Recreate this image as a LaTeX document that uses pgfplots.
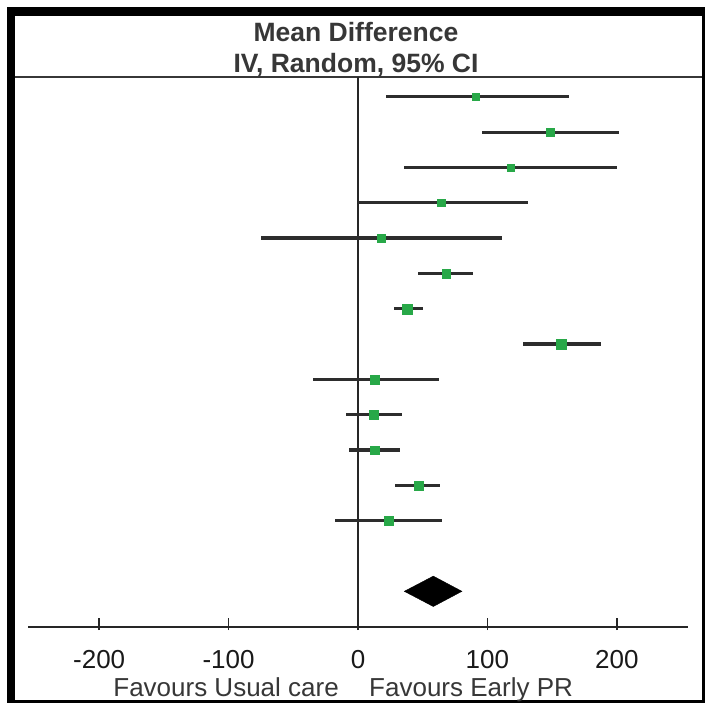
\documentclass[border=0pt]{standalone}
\usepackage{fontspec}
\setmainfont{Liberation Sans}
\usepackage{pgfplots}
\usepackage{pgfplotstable}
\pgfplotsset{compat=1.18}
\definecolor{mkgreen}{RGB}{40,168,72}
\definecolor{cigray}{RGB}{45,45,45}
\definecolor{txtgray}{RGB}{55,55,55}

\pgfplotstableread{
row est lo hi sz
-1 91.3 21.6 162.7 3.5
-2 148.5 95.5 201.8 3.7
-3 117.9 35.5 200.2 3.7
-4 64.2 0.0 131.0 3.7
-5 17.8 -74.9 110.9 3.7
-6 68.2 46.5 88.5 4.4
-7 38.4 28.0 49.9 5.0
-8 157.0 127.6 187.6 5.0
-9 13.1 -35.0 62.8 4.6
-10 12.1 -9.3 33.9 4.4
-11 12.9 -7.2 32.4 4.2
-12 46.6 28.6 63.3 4.4
-13 23.7 -17.8 64.6 4.4
}\studies

\begin{document}
\begin{tikzpicture}
\fill[white] (0pt,0pt) rectangle (705pt,-703pt);
\useasboundingbox (0pt,0pt) rectangle (705pt,-703pt);
% frame
\fill[black] (6.7pt,-7.5pt) rectangle (705pt,-703pt);
\fill[white] (14.7pt,-15.7pt) rectangle (701.5pt,-699.5pt);
% header rule
\draw[line width=2pt, txtgray] (14.7pt,-77pt) -- (701.5pt,-77pt);
\node[anchor=base, inner sep=0pt, text=txtgray, font=\fontsize{26.5}{26.5}\selectfont\bfseries] at (356pt,-42pt) {Mean Difference};
\node[anchor=base, inner sep=0pt, text=txtgray, font=\fontsize{26.5}{26.5}\selectfont\bfseries] at (356pt,-73pt) {IV, Random, 95\% CI};

\begin{axis}[
  at={(28pt,-627pt)}, anchor=south west,
  width=660pt, height=550pt, scale only axis,
  xmin=-255, xmax=255, ymin=-16.01, ymax=-0.44,
  axis x line=bottom, axis y line=none,
  x axis line style={-, line width=1.8pt, black!85},
  xtick={-200,-100,0,100,200},
  xticklabels={-200,-100,0,100,200},
  ytick=\empty,
  tick align=inside, major tick length=12pt,
  xtick style={line width=1.8pt, black!85, yshift=-3pt},
  xticklabel style={font=\fontsize{26}{26}\selectfont, text=black!90, yshift=-20pt},
  clip=false,
]
% zero line
\addplot[line width=1.8pt, black!85] coordinates {(0,-0.44) (0,-16.01)};
% confidence intervals
\addplot[only marks, mark=none,
  error bars/.cd, x dir=both, x explicit, error mark=none,
  error bar style={line width=3.2pt, cigray}]
  table[x=est, y=row,
    x error plus expr=\thisrow{hi}-\thisrow{est},
    x error minus expr=\thisrow{est}-\thisrow{lo}] {\studies};
% point estimates
\addplot[scatter, only marks, mark=square*,
  point meta=\thisrow{sz},
  visualization depends on={\thisrow{sz}\as\msz},
  scatter/use mapped color={draw=mkgreen, fill=mkgreen},
  scatter/@pre marker code/.append style={/tikz/mark size=\msz}]
  table[x=est, y=row] {\studies};
% pooled estimate
\addplot[fill=black, draw=black] coordinates {(35.8,-15) (58.2,-14.57) (80.3,-15) (58.2,-15.43)} -- cycle;
\end{axis}

\node[anchor=base east, inner sep=0pt, text=txtgray, font=\fontsize{26}{26}\selectfont] at (339pt,-696pt) {Favours Usual care};
\node[anchor=base west, inner sep=0pt, text=txtgray, font=\fontsize{26}{26}\selectfont] at (369pt,-696pt) {Favours Early PR};
\end{tikzpicture}
\end{document}
